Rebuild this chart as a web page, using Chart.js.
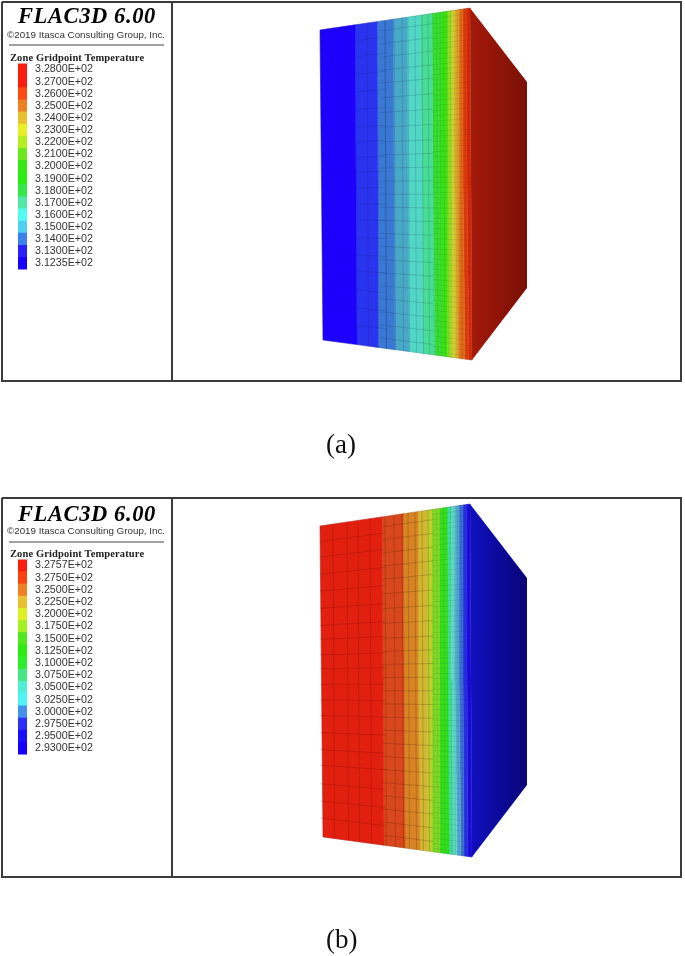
<!DOCTYPE html>
<html><head><meta charset="utf-8">
<script src="https://cdn.jsdelivr.net/npm/chart.js@4/dist/chart.umd.min.js"></script>
<style>
html,body{margin:0;padding:0;background:#fff;width:685px;height:956px;overflow:hidden}
canvas{position:absolute;filter:blur(0.6px)}
.t{position:absolute;white-space:nowrap;color:#111;filter:blur(0.3px);line-height:1}
.h{font:italic bold 22.5px "Liberation Serif";letter-spacing:0.6px;left:18px;color:#000}
.c{font:9.8px "Liberation Sans";left:7px;color:#333}
.z{font:bold 10.5px "Liberation Serif";left:10px;letter-spacing:.12px;color:#222}
.p{font:27px "Liberation Serif";color:#111}
</style></head><body>
<canvas id="main" width="685" height="956" style="left:0;top:0;width:685px;height:956px"></canvas>
<canvas id="legA" width="130" height="235" style="left:18px;top:49px;width:130px;height:235px"></canvas>
<canvas id="legB" width="130" height="224" style="left:18px;top:545px;width:130px;height:224px"></canvas>
<div class="t h" style="top:3px">FLAC3D 6.00</div>
<div class="t c" style="top:28.5px">©2019 Itasca Consulting Group, Inc.</div>
<div class="t z" style="top:52px">Zone Gridpoint Temperature</div>
<div class="t p" style="left:326px;top:429px">(a)</div>
<div class="t h" style="top:501px">FLAC3D 6.00</div>
<div class="t c" style="top:525px">©2019 Itasca Consulting Group, Inc.</div>
<div class="t z" style="top:548px">Zone Gridpoint Temperature</div>
<div class="t p" style="left:326px;top:924px">(b)</div>
<script>
// Legend tick labels and colours, top to bottom
const legendLabelsA = ["3.2800E+02","3.2700E+02","3.2600E+02","3.2500E+02","3.2400E+02","3.2300E+02","3.2200E+02","3.2100E+02","3.2000E+02","3.1900E+02","3.1800E+02","3.1700E+02","3.1600E+02","3.1500E+02","3.1400E+02","3.1300E+02","3.1235E+02"];
const legendColoursA = ["#fb1e10","#fb1e10","#fb4a12","#ee8024","#e8c030","#e6f024","#b4f020","#6ee81e","#34e812","#28ee12","#34e84a","#50e8a4","#50fbf0","#50cff4","#3c80ee","#2a20f8","#1800ff"];
const legendLabelsB = ["3.2757E+02","3.2750E+02","3.2500E+02","3.2250E+02","3.2000E+02","3.1750E+02","3.1500E+02","3.1250E+02","3.1000E+02","3.0750E+02","3.0500E+02","3.0250E+02","3.0000E+02","2.9750E+02","2.9500E+02","2.9300E+02"];
const legendColoursB = ["#fb1e10","#fb4012","#ee8024","#e8c030","#dcf024","#a4f020","#50e81e","#2cec12","#2cee2a","#46e884","#50f0d4","#50f4f4","#4690ee","#2a30f4","#1a10fc","#1800ff"];

// Panel outlines
const frameX = [2,681,681,2,2];
const frameDividerX = [172,172];
const ruleX = [9,164];
const frameYA = [2,2,381,381,2];
const frameYB = [498,498,877,877,498];
const ruleYA = [45,45];
const ruleYB = [542,542];

// Block corners [x,y]: top-left, top-right, bottom-right, bottom-left, far-top, far-bottom
const blockA = [[320,30],[470,8],[472,360],[323,340],[527,82],[527,288]];
const blockB = [[320,526],[470,504],[472,857],[323,837],[527,578],[527,785]];

// Contour band edges on the front face, x at the top, middle and bottom
const edgesTopA = [320,355,377,393,407,420,432,441,447,451,455,459,463,467,470];
const edgesMidA = [321.5,356,378,394,408,422,433,441,447,451,455,459,463,467,471];
const edgesBotA = [323,357,378,395,409,423,435,442,447,452,456,460,465,469,472];
const bandColoursA = ["#1c00fb","#2a34ee","#3a78d4","#48a8c8","#52d6c6","#48dc96","#38de30","#3ae414","#90dc28","#cfd030","#e0a028","#e06a18","#e03a10","#d82808"];
const edgesTopB = [320,382,403,418,427,432,440,447,451,455,459,463,467,470];
const edgesMidB = [321.5,383,404,418,427,432,440,448,452,455,459,463,467,471];
const edgesBotB = [323,384,405,420,428,432,440,449,453,457,461,464,468,472];
const bandColoursB = ["#e2200f","#d8481c","#d88424","#d2b832","#bcd02e","#80d828","#34e01c","#42dc9c","#60d6c6","#50a8d0","#3a70d2","#2a2ce8","#1a0ae0"];

// Side-face shading, left to right
const sideColoursA = ["#a41a0a","#901408","#7a1004"];
const sideColoursB = ["#1010c0","#0c0a9c","#0a0478"];

// Mesh lines on the front face
const meshRowsWide = [0.05,0.1,0.155,0.21,0.265,0.32,0.365,0.415,0.46,0.51,0.56,0.61,0.665,0.72,0.77,0.83,0.885,0.94];
const meshColsWideA = [367,385];
const meshColsWideB = [333,347,358,370];
const meshRowsMid = [0.03,0.07,0.11,0.15,0.19,0.235,0.28,0.325,0.37,0.41,0.45,0.49,0.53,0.57,0.61,0.65,0.69,0.73,0.77,0.81,0.85,0.89,0.93,0.97];
const meshColsMid = [385,394,402,408,415,422,428];
const meshRowsFine = [0.015,0.03,0.045,0.06,0.075,0.09,0.105,0.12,0.135,0.15,0.165,0.18,0.195,0.21,0.225,0.24,0.255,0.27,0.285,0.3,0.315,0.33,0.345,0.36,0.375,0.39,0.405,0.42,0.435,0.45,0.465,0.48,0.495,0.51,0.525,0.54,0.555,0.57,0.585,0.6,0.615,0.63,0.645,0.66,0.675,0.69,0.705,0.72,0.735,0.75,0.765,0.78,0.795,0.81,0.825,0.84,0.855,0.87,0.885,0.9,0.915,0.93,0.945,0.96,0.975,0.99];
const meshColsFine = [433,436.5,440,443.5,447,450.5,454,457.5,461,464.5,468];

const lerp=(a,b,t)=>a+(b-a)*t;
function faceY(b,x,f){
  const tx=(x-b[0][0])/(b[1][0]-b[0][0]), bx=(x-b[3][0])/(b[2][0]-b[3][0]);
  return lerp(lerp(b[0][1],b[1][1],tx),lerp(b[3][1],b[2][1],bx),f);
}
function poly(points,colour){
  return {data:points,showLine:true,pointRadius:0,borderColor:colour,borderWidth:0.5,backgroundColor:colour,fill:'shape',tension:0};
}
function stroke(points,colour,w){
  return {data:points,showLine:true,pointRadius:0,borderColor:colour,borderWidth:w,fill:false,tension:0,spanGaps:false};
}
function bands(b,top,mid,bot,cols){
  return cols.map((c,i)=>poly([
    {x:top[i],y:faceY(b,top[i],0)},{x:mid[i],y:faceY(b,mid[i],.5)},{x:bot[i],y:faceY(b,bot[i],1)},
    {x:bot[i+1],y:faceY(b,bot[i+1],1)},{x:mid[i+1],y:faceY(b,mid[i+1],.5)},{x:top[i+1],y:faceY(b,top[i+1],0)},
    {x:top[i],y:faceY(b,top[i],0)}],c));
}
function side(b,cols){
  const ds=poly([b[1],b[4],b[5],b[2],b[1]].map(p=>({x:p[0],y:p[1]})),cols[1]);
  ds.backgroundColor=(c)=>{
    const s=c.chart.scales.x, x0=s&&s.getPixelForValue(b[1][0]), x1=s&&s.getPixelForValue(b[4][0]);
    if(!Number.isFinite(x0)||!Number.isFinite(x1)) return cols[1];
    const g=c.chart.ctx.createLinearGradient(x0,0,x1,0);
    cols.forEach((col,i)=>g.addColorStop(i/(cols.length-1),col));
    return g;
  };
  ds.borderColor='rgba(0,0,0,0)';
  return ds;
}
function mesh(b,x1,x2,rows,cols,colour,w){
  const pts=[];
  rows.forEach(f=>{pts.push({x:x1,y:faceY(b,x1,f)},{x:x2,y:faceY(b,x2,f)},{x:null,y:null});});
  cols.forEach(x=>{pts.push({x,y:faceY(b,x,0)},{x:x+1.5,y:faceY(b,x+1.5,1)},{x:null,y:null});});
  return stroke(pts,colour,w);
}
function frame(fy,ry){
  return [stroke(frameX.map((x,i)=>({x,y:fy[i]})),'#3c3c3c',2),
    stroke(frameDividerX.map((x,i)=>({x,y:[fy[0],fy[2]][i]})),'#3c3c3c',2),
    stroke(ruleX.map((x,i)=>({x,y:ry[i]})),'#444',1.2)];
}
function outline(b){
  return stroke([b[0],b[1],b[2],b[3],b[0]].map(p=>({x:p[0],y:p[1]})),'rgba(40,40,60,0.25)',0.6);
}
const datasets=[
  ...frame(frameYA,ruleYA),...frame(frameYB,ruleYB),
  outline(blockA),outline(blockB),
  mesh(blockA,433,470,meshRowsFine,meshColsFine,'rgba(0,40,0,0.12)',0.7),
  mesh(blockA,380,433,meshRowsMid,meshColsMid,'rgba(10,30,50,0.2)',0.8),
  mesh(blockA,356,385,meshRowsWide,meshColsWideA,'rgba(0,0,60,0.16)',0.8),
  mesh(blockB,433,470,meshRowsFine,meshColsFine,'rgba(0,40,0,0.12)',0.7),
  mesh(blockB,383,433,meshRowsMid,meshColsMid,'rgba(50,20,0,0.26)',0.8),
  mesh(blockB,320,385,meshRowsWide,meshColsWideB,'rgba(80,0,0,0.22)',0.9),
  ...bands(blockA,edgesTopA,edgesMidA,edgesBotA,bandColoursA),
  side(blockA,sideColoursA),
  ...bands(blockB,edgesTopB,edgesMidB,edgesBotB,bandColoursB),
  side(blockB,sideColoursB)
];
new Chart(document.getElementById('main'),{type:'scatter',data:{datasets},options:{
  responsive:false,animation:false,devicePixelRatio:1,layout:{padding:0},
  plugins:{legend:{display:false},tooltip:{enabled:false},title:{display:false}},
  events:[],
  scales:{x:{type:'linear',min:0,max:685,display:false},y:{type:'linear',min:0,max:956,reverse:true,display:false}}
}});
function legendChart(id,labels,colours){
  new Chart(document.getElementById(id),{type:'bar',data:{labels,datasets:[{data:labels.map(()=>1),backgroundColor:colours,categoryPercentage:1,barPercentage:1,borderWidth:0}]},options:{
    indexAxis:'y',responsive:false,animation:false,devicePixelRatio:1,layout:{padding:0,autoPadding:false},events:[],
    plugins:{legend:{display:false},tooltip:{enabled:false}},
    scales:{
      x:{display:false,min:0,max:1},
      y:{position:'right',afterFit:s=>{s.width=121;},grid:{display:false,drawTicks:false},border:{display:false},
         ticks:{autoSkip:false,padding:8,color:'#333',font:{family:'Liberation Sans',size:10.7},align:'center',crossAlign:'near'}}
    }
  }});
}
legendChart('legA',legendLabelsA,legendColoursA);
legendChart('legB',legendLabelsB,legendColoursB);
</script>
</body></html>
